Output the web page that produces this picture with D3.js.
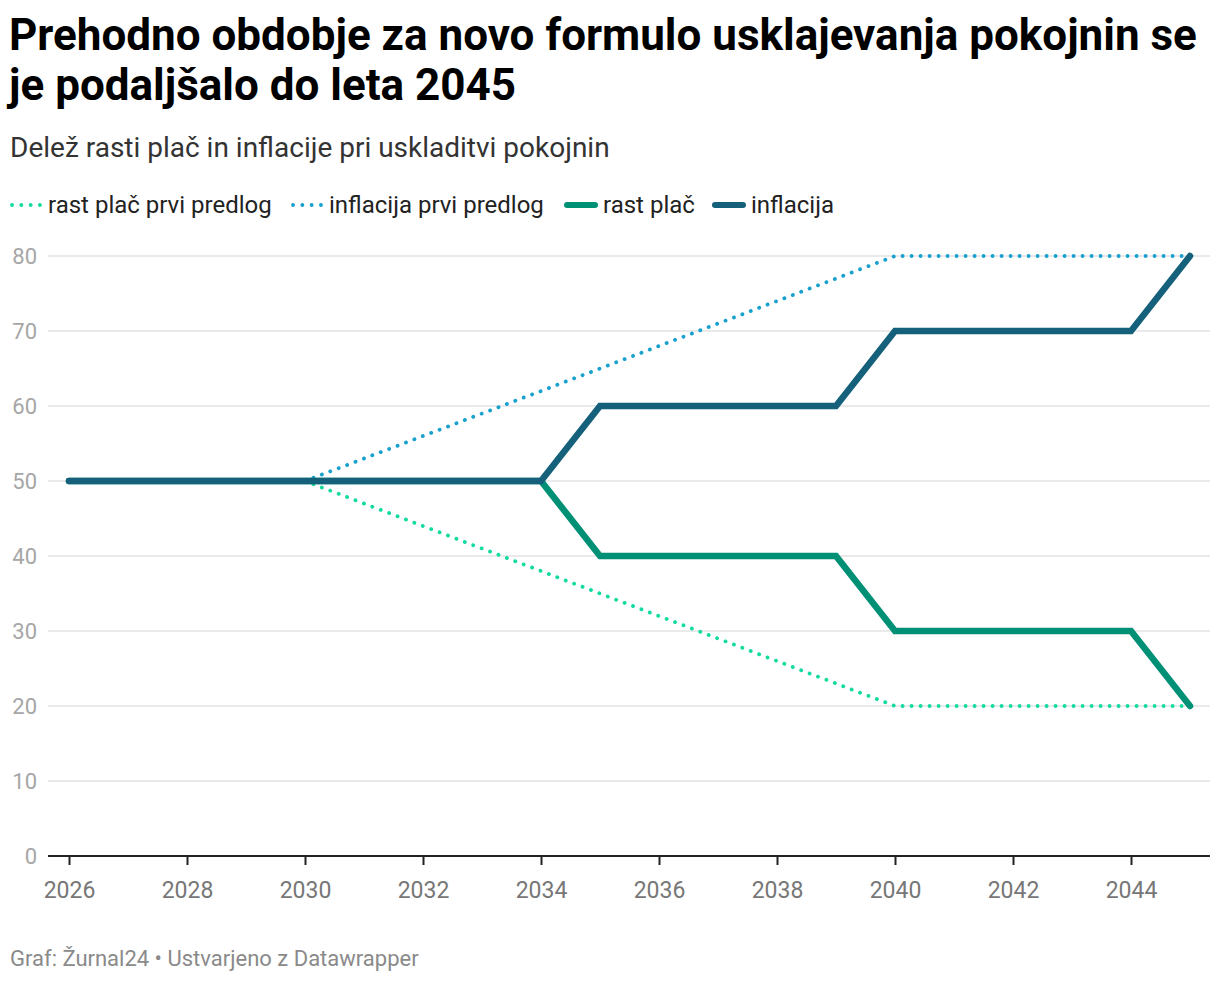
<!DOCTYPE html>
<html>
<head>
<meta charset="utf-8">
<script src="https://cdn.jsdelivr.net/npm/d3@7"></script>
<style>
  body { margin: 0; background: #fff; font-family: Roboto, "Noto Sans", sans-serif; }
  svg text { font-family: Roboto, "Noto Sans", sans-serif; }
</style>
</head>
<body>
<svg width="1220" height="982"></svg>
<script>
// data
var years = d3.range(2026, 2046);
var rastPlac = [50,50,50,50,50,50,50,50,50,40,40,40,40,40,30,30,30,30,30,20];
var inflacija = [50,50,50,50,50,50,50,50,50,60,60,60,60,60,70,70,70,70,70,80];
// first proposal starts at 2030
var predlogYears = d3.range(2030, 2046);
var rastPlacPredlog = [50,47,44,41,38,35,32,29,26,23,20,20,20,20,20,20];
var inflacijaPredlog = [50,53,56,59,62,65,68,71,74,77,80,80,80,80,80,80];
var yTicks = [0,10,20,30,40,50,60,70,80];
var xTicks = [2026,2028,2030,2032,2034,2036,2038,2040,2042,2044];

var svg = d3.select('svg');

var x = d3.scaleLinear().domain([2026, 2045]).range([69, 1190]);
var y = d3.scaleLinear().domain([0, 80]).range([856, 256]);

// title
svg.append('text').attr('x', 9).attr('y', 50)
  .style('font-size', '44px').style('font-weight', 700).attr('fill', '#000')
  .text('Prehodno obdobje za novo formulo usklajevanja pokojnin se');
svg.append('text').attr('x', 9).attr('y', 100)
  .style('font-size', '44px').style('font-weight', 700).attr('fill', '#000')
  .text('je podaljšalo do leta 2045');
svg.append('text').attr('x', 10).attr('y', 157)
  .style('font-size', '28px').attr('fill', '#333')
  .text('Delež rasti plač in inflacije pri uskladitvi pokojnin');

// legend
var legend = [
  {label: 'rast plač prvi predlog', color: '#13dba0', dotted: true, x: 12},
  {label: 'inflacija prvi predlog', color: '#18a1cd', dotted: true, x: 293},
  {label: 'rast plač', color: '#009076', dotted: false, x: 567},
  {label: 'inflacija', color: '#15607a', dotted: false, x: 715}
];
var lg = svg.append('g');
legend.forEach(function(d) {
  lg.append('line')
    .attr('x1', d.x).attr('x2', d.x + 28).attr('y1', 205).attr('y2', 205)
    .attr('stroke', d.color)
    .attr('stroke-width', d.dotted ? 3.8 : 6)
    .attr('stroke-linecap', 'round')
    .attr('stroke-dasharray', d.dotted ? '0.1 9.2' : null);
  lg.append('text').attr('x', d.x + 36).attr('y', 213)
    .style('font-size', '24px').attr('fill', '#222').text(d.label);
});

// gridlines + y labels
var grid = svg.append('g');
yTicks.forEach(function(t) {
  if (t > 0) {
    grid.append('line').attr('x1', 48).attr('x2', 1210)
      .attr('y1', y(t)).attr('y2', y(t))
      .attr('stroke', '#e3e3e3').attr('stroke-width', 1.5);
  }
  grid.append('text').attr('x', 37).attr('y', y(t) + 8)
    .attr('text-anchor', 'end').style('font-size', '22px').attr('fill', '#a6a6a6')
    .text(t);
});

// x axis
var xAxis = d3.axisBottom(x).tickValues(xTicks).tickFormat(d3.format('d'))
  .tickSize(9).tickPadding(17);
var xg = svg.append('g').attr('transform', 'translate(0,' + y(0) + ')').call(xAxis);
xg.select('.domain').remove();
xg.append('line').attr('x1', 48).attr('x2', 1210).attr('y1', 0).attr('y2', 0)
  .attr('stroke', '#222').attr('stroke-width', 2);
xg.selectAll('.tick line').attr('stroke', '#222').attr('stroke-width', 2);
xg.selectAll('.tick text').style('font-size', '23px').attr('fill', '#777');

// lines
var line = d3.line().x(function(d) { return x(d[0]); }).y(function(d) { return y(d[1]); });
function pairs(xs, vs) { return xs.map(function(yr, i) { return [yr, vs[i]]; }); }

var series = [
  {data: pairs(predlogYears, rastPlacPredlog), color: '#13dba0', dotted: true},
  {data: pairs(predlogYears, inflacijaPredlog), color: '#18a1cd', dotted: true},
  {data: pairs(years, rastPlac), color: '#009076', dotted: false},
  {data: pairs(years, inflacija), color: '#15607a', dotted: false}
];
svg.append('g').selectAll('path').data(series).enter().append('path')
  .attr('d', function(d) { return line(d.data); })
  .attr('fill', 'none')
  .attr('stroke', function(d) { return d.color; })
  .attr('stroke-width', function(d) { return d.dotted ? 3.8 : 6.5; })
  .attr('stroke-linecap', 'round')
  .attr('stroke-linejoin', 'miter')
  .attr('stroke-dasharray', function(d) { return d.dotted ? '0.1 8.9' : null; });

// footer
svg.append('text').attr('x', 10).attr('y', 966)
  .style('font-size', '22px').attr('fill', '#8a8a8a')
  .text('Graf: Žurnal24 • Ustvarjeno z Datawrapper');
</script>
</body>
</html>
